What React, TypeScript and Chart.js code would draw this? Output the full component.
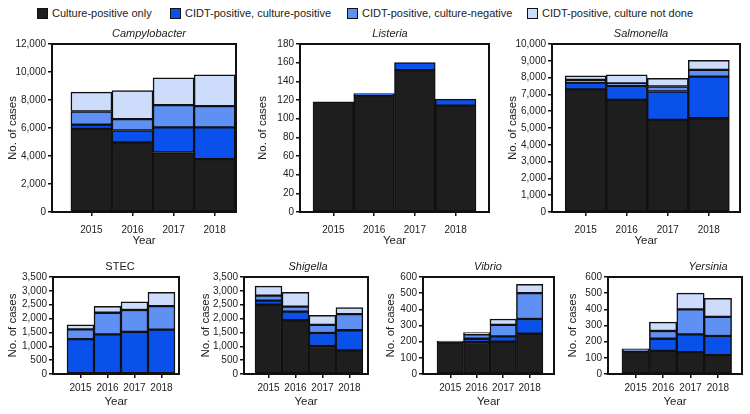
import React, { useEffect, useRef } from 'react';
import { Chart, registerables } from 'chart.js';

Chart.register(...registerables);

const FONT = '"Liberation Sans", Arial, sans-serif';
Chart.defaults.font.family = FONT;

// ---------- data ----------
const years = [2015, 2016, 2017, 2018];
const seriesLabels = [
  'Culture-positive only',
  'CIDT-positive, culture-positive',
  'CIDT-positive, culture-negative',
  'CIDT-positive, culture not done',
];

const campyCulture = [5940, 4970, 4250, 3780];
const campyCidtPos = [290, 850, 1790, 2260];
const campyCidtNeg = [950, 810, 1590, 1520];
const campyNotDone = [1380, 2040, 1950, 2230];

const listeriaCulture = [118, 125, 152, 114];
const listeriaCidtPos = [0, 2, 8, 7];
const listeriaCidtNeg = [0, 0, 0, 0];
const listeriaNotDone = [0, 0, 0, 0];

const salmCulture = [7300, 6670, 5480, 5580];
const salmCidtPos = [400, 830, 1690, 2480];
const salmCidtNeg = [160, 160, 300, 400];
const salmNotDone = [240, 500, 480, 570];

const stecCulture = [0, 0, 0, 0];
const stecCidtPos = [1260, 1430, 1520, 1600];
const stecCidtNeg = [350, 780, 790, 850];
const stecNotDone = [160, 230, 290, 500];

const shigCulture = [2500, 1940, 1010, 850];
const shigCidtPos = [150, 310, 470, 730];
const shigCidtNeg = [180, 180, 290, 580];
const shigNotDone = [340, 520, 350, 240];

const vibCulture = [196, 198, 200, 250];
const vibCidtPos = [8, 20, 33, 90];
const vibCidtNeg = [0, 28, 71, 160];
const vibNotDone = [0, 10, 36, 54];

const yersCulture = [140, 143, 135, 117];
const yersCidtPos = [0, 75, 110, 118];
const yersCidtNeg = [15, 48, 155, 118];
const yersNotDone = [0, 55, 100, 115];

const COLORS = ['#1e1e1e', '#0a50eb', '#5f91f5', '#cddcfa'];
const INK = '#111';
const TEXT = '#222';

interface PanelSpec {
  title: string;
  italic: boolean;
  series: number[][];
  yMax: number;
  yStep: number;
  xMin: number;
  xMax: number;
  left: number;
  plotLeft: number;
  plotRight: number;
  top: number;
  plotTop: number;
  plotBottom: number;
  xAxisH: number;
  xTickPad: number;
  titleX: number;
}

const TOP = { top: 26, plotTop: 44, plotBottom: 212, xAxisH: 36, xTickPad: 8 };
const BOT = { top: 259, plotTop: 277, plotBottom: 374, xAxisH: 35, xTickPad: 4 };

const panels: PanelSpec[] = [
  { title: 'Campylobacter', italic: true, series: [campyCulture, campyCidtPos, campyCidtNeg, campyNotDone],
    yMax: 12000, yStep: 2000, xMin: 2014.04, xMax: 2018.52, left: 6, plotLeft: 52, plotRight: 236, titleX: 149, ...TOP },
  { title: 'Listeria', italic: true, series: [listeriaCulture, listeriaCidtPos, listeriaCidtNeg, listeriaNotDone],
    yMax: 180, yStep: 20, xMin: 2014.18, xMax: 2018.82, left: 256, plotLeft: 300, plotRight: 489, titleX: 390, ...TOP },
  { title: 'Salmonella', italic: true, series: [salmCulture, salmCidtPos, salmCidtNeg, salmNotDone],
    yMax: 10000, yStep: 1000, xMin: 2014.18, xMax: 2018.76, left: 506, plotLeft: 552, plotRight: 740, titleX: 641, ...TOP },
  { title: 'STEC', italic: false, series: [stecCulture, stecCidtPos, stecCidtNeg, stecNotDone],
    yMax: 3500, yStep: 500, xMin: 2013.98, xMax: 2018.65, left: 6, plotLeft: 53, plotRight: 179, titleX: 120, ...BOT },
  { title: 'Shigella', italic: true, series: [shigCulture, shigCidtPos, shigCidtNeg, shigNotDone],
    yMax: 3500, yStep: 500, xMin: 2014.09, xMax: 2018.69, left: 199, plotLeft: 244, plotRight: 368, titleX: 308, ...BOT },
  { title: 'Vibrio', italic: true, series: [vibCulture, vibCidtPos, vibCidtNeg, vibNotDone],
    yMax: 600, yStep: 100, xMin: 2013.97, xMax: 2018.92, left: 384, plotLeft: 423, plotRight: 554, titleX: 488, ...BOT },
  { title: 'Yersinia', italic: true, series: [yersCulture, yersCidtPos, yersCidtNeg, yersNotDone],
    yMax: 600, yStep: 100, xMin: 2013.99, xMax: 2018.88, left: 566, plotLeft: 608, plotRight: 742, titleX: 708, ...BOT },
];

function Panel({ spec }: { spec: PanelSpec }) {
  const ref = useRef<HTMLCanvasElement>(null);
  const width = spec.plotRight + 2 - spec.left;
  const height = spec.plotBottom + spec.xAxisH - spec.top;
  const padTop = spec.plotTop - spec.top;
  const yAxisW = spec.plotLeft - spec.left;

  useEffect(() => {
    if (!ref.current) return;
    const framePlugin = {
      id: 'frame',
      afterDatasetsDraw(chart: any) {
        const { ctx, chartArea } = chart;
        ctx.save();
        ctx.strokeStyle = INK;
        ctx.lineWidth = 2;
        ctx.strokeRect(chartArea.left, chartArea.top, chartArea.right - chartArea.left, chartArea.bottom - chartArea.top);
        ctx.restore();
      },
    };
    const titlePlugin = {
      id: 'panelTitle',
      afterDraw(chart: any) {
        const { ctx, chartArea } = chart;
        ctx.save();
        ctx.font = `${spec.italic ? 'italic ' : ''}11px ${FONT}`;
        ctx.fillStyle = TEXT;
        ctx.textAlign = 'center';
        ctx.textBaseline = 'middle';
        ctx.fillText(spec.title, spec.titleX - spec.left, chartArea.top - 10);
        ctx.restore();
      },
    };
    const chart = new Chart(ref.current, {
      type: 'bar',
      data: {
        datasets: spec.series.map((vals, i) => ({
          label: seriesLabels[i],
          data: years.map((yr, j) => ({ x: yr, y: vals[j] })),
          backgroundColor: COLORS[i],
          borderColor: INK,
          borderWidth: 1.5,
          borderSkipped: false,
          stack: 's',
          barPercentage: 1,
          categoryPercentage: 1,
        })),
      },
      options: {
        responsive: false,
        animation: false,
        events: [],
        layout: { padding: { top: padTop, right: 2, left: 0, bottom: 0 } },
        plugins: { legend: { display: false }, tooltip: { enabled: false }, title: { display: false } },
        scales: {
          x: {
            type: 'linear',
            min: spec.xMin,
            max: spec.xMax,
            offset: false,
            afterBuildTicks: (ax: any) => { ax.ticks = years.map((v) => ({ value: v })); },
            afterFit: (ax: any) => { ax.height = spec.xAxisH; },
            ticks: { callback: (v: any) => String(v), font: { size: 10 }, color: TEXT, padding: spec.xTickPad, maxRotation: 0, autoSkip: false },
            grid: { display: true, drawOnChartArea: false, drawTicks: true, tickLength: 4, color: INK, lineWidth: 1.5, offset: false },
            border: { display: true, color: INK, width: 2 },
            title: { display: true, text: 'Year', font: { size: 11.5 }, color: TEXT, padding: 0 },
          },
          y: {
            stacked: true,
            min: 0,
            max: spec.yMax,
            afterFit: (ax: any) => { ax.width = yAxisW; },
            ticks: { stepSize: spec.yStep, autoSkip: false, callback: (v: any) => Number(v).toLocaleString('en-US'), font: { size: 10 }, color: TEXT, padding: 2 },
            grid: { display: true, drawOnChartArea: false, drawTicks: true, tickLength: 4, color: INK, lineWidth: 1.5 },
            border: { display: true, color: INK, width: 2 },
            title: { display: true, text: 'No. of cases', font: { size: 11.5 }, color: TEXT, padding: 0 },
          },
        },
      } as any,
      plugins: [framePlugin, titlePlugin],
    });
    return () => chart.destroy();
  }, []);

  return (
    <canvas
      ref={ref}
      width={width}
      height={height}
      style={{ position: 'absolute', left: spec.left, top: spec.top, width, height }}
    />
  );
}

const legendX = [37, 170, 347, 527];

export default function App() {
  return (
    <div style={{ position: 'absolute', left: 0, top: 0, width: 750, height: 414, background: '#fff', overflow: 'hidden', fontFamily: FONT }}>
      {seriesLabels.map((lab, i) => (
        <div key={lab} style={{ position: 'absolute', left: legendX[i], top: 6, height: 14, display: 'flex', alignItems: 'center', whiteSpace: 'nowrap' }}>
          <span style={{ display: 'inline-block', width: 9, height: 9, background: COLORS[i], border: `1.5px solid ${INK}`, marginRight: 4 }} />
          <span style={{ fontSize: 11, color: TEXT }}>{lab}</span>
        </div>
      ))}
      {panels.map((p) => (
        <Panel key={p.title} spec={p} />
      ))}
    </div>
  );
}
